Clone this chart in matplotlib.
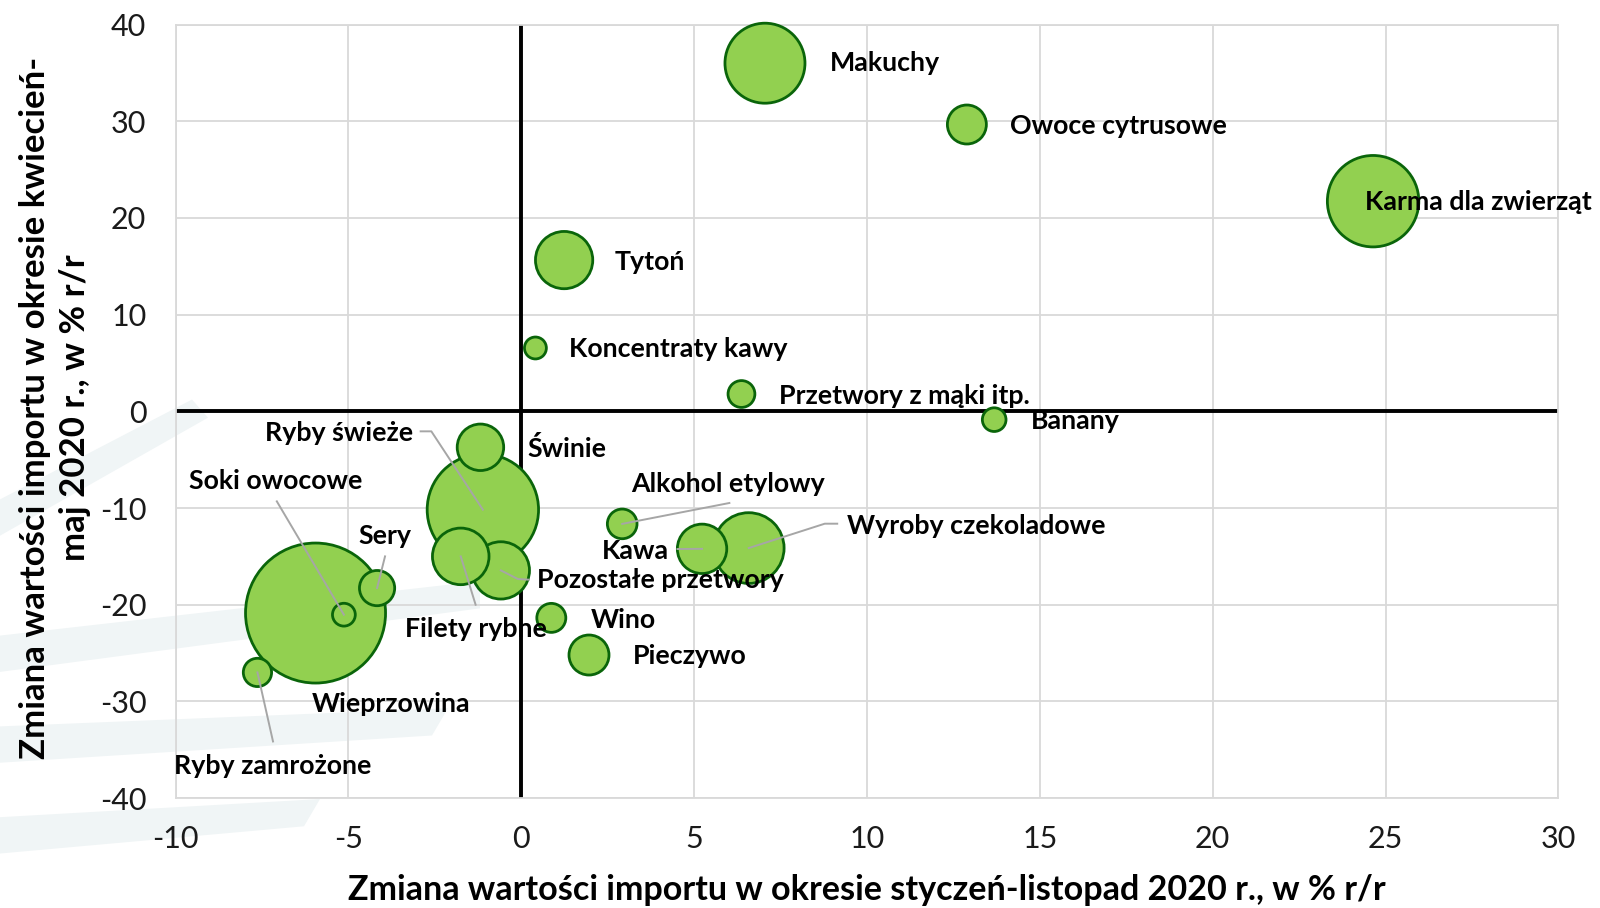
import matplotlib
matplotlib.use("Agg")
import matplotlib.pyplot as plt
from matplotlib.patches import Polygon
import numpy as np

plt.rcParams['font.family'] = ['Lato', 'DejaVu Sans']
plt.rcParams['axes.unicode_minus'] = False

# --- data ---
nazwy = ['Makuchy', 'Owoce cytrusowe', 'Karma dla zwierząt', 'Tytoń', 'Koncentraty kawy',
         'Przetwory z mąki itp.', 'Banany', 'Świnie', 'Ryby świeże', 'Filety rybne',
         'Pozostałe przetwory', 'Alkohol etylowy', 'Kawa', 'Wyroby czekoladowe', 'Sery',
         'Wieprzowina', 'Soki owocowe', 'Ryby zamrożone', 'Wino', 'Pieczywo']
zmiana_sty_lis = [7.05, 12.89, 24.64, 1.24, 0.41,
                  6.37, 13.68, -1.18, -1.11, -1.75,
                  -0.59, 2.92, 5.23, 6.58, -4.17,
                  -5.95, -5.13, -7.63, 0.87, 1.96]
zmiana_kwi_maj = [36.0, 29.66, 21.73, 15.64, 6.55,
                  1.79, -0.86, -3.72, -10.17, -15.0,
                  -16.45, -11.64, -14.22, -14.14, -18.28,
                  -20.86, -21.03, -27.0, -21.36, -25.2]
wielkosc = [16.0, 3.8, 20.9, 8.2, 1.2,
            1.8, 1.4, 5.4, 31.0, 8.0,
            8.2, 2.2, 6.1, 12.5, 3.1,
            49.0, 1.3, 2.0, 2.1, 4.0]

# label anchor (left edge, vertical centre) in data units, plus optional leader line
etykiety = {
    'Makuchy': (8.94, 36.0, None),
    'Owoce cytrusowe': (14.13, 29.55, None),
    'Karma dla zwierząt': (24.40, 21.6, None),
    'Tytoń': (2.71, 15.41, None),
    'Koncentraty kawy': (1.39, 6.44, None),
    'Przetwory z mąki itp.': (7.46, 1.58, None),
    'Banany': (14.73, -1.03, None),
    'Świnie': (0.18, -3.8, None),
    'Ryby świeże': (-7.42, -2.24, [(-2.91, -2.07), (-2.60, -2.07)]),
    'Soki owocowe': (-9.62, -7.17, [(-7.07, -9.31)]),
    'Sery': (-4.71, -12.93, [(-3.94, -15.0)]),
    'Filety rybne': (-3.37, -22.5, [(-1.32, -20.0)]),
    'Pozostałe przetwory': (0.45, -17.41, [(0.22, -17.41), (-0.10, -17.34)]),
    'Alkohol etylowy': (3.17, -7.48, [(6.02, -9.48)]),
    'Kawa': (2.33, -14.41, [(4.52, -14.24)]),
    'Wyroby czekoladowe': (9.42, -11.9, [(9.14, -11.62), (8.78, -11.62)]),
    'Wieprzowina': (-6.06, -30.24, None),
    'Ryby zamrożone': (-10.03, -36.66, [(-7.18, -34.14)]),
    'Wino': (2.0, -21.55, None),
    'Pieczywo': (3.23, -25.34, None),
}

fig = plt.figure(figsize=(16, 9.08), dpi=100)

# faint background watermark streaks, on a hidden axes behind the chart
bg = fig.add_axes([0, 0, 1, 1], zorder=-1)
bg.set_xlim(0, 1)
bg.set_ylim(0, 1)
bg.axis('off')
for pts in [[(0.0, 0.30), (0.30, 0.36), (0.30, 0.33), (0.0, 0.26)],
            [(0.0, 0.20), (0.28, 0.22), (0.27, 0.19), (0.0, 0.16)],
            [(0.0, 0.10), (0.20, 0.12), (0.19, 0.09), (0.0, 0.06)],
            [(0.0, 0.45), (0.12, 0.56), (0.13, 0.54), (0.0, 0.41)]]:
    bg.add_patch(Polygon(pts, closed=True, facecolor='#F0F5F6', edgecolor='none'))

ax = fig.add_axes([0.1097, 0.121, 0.8643, 0.852])
ax.set_facecolor('none')

ax.set_xlim(-10, 30)
ax.set_ylim(-40, 40)
ax.set_xticks(np.arange(-10, 31, 5))
ax.set_yticks(np.arange(-40, 41, 10))
ax.grid(True, color='#D9D9D9', linewidth=1.3, zorder=0)
ax.set_axisbelow(True)
for s in ax.spines.values():
    s.set_color('#D9D9D9')
    s.set_linewidth(1.3)
ax.tick_params(length=0, labelsize=22, labelcolor='#1a1a1a')
ax.tick_params(axis='y', pad=21)
ax.tick_params(axis='x', pad=19)

ax.axhline(0, color='black', linewidth=2.8, zorder=1)
ax.axvline(0, color='black', linewidth=2.8, zorder=1)

# bubbles: biggest first so smaller ones stay on top
order = np.argsort(wielkosc)[::-1]
x = np.array(zmiana_sty_lis)[order]
y = np.array(zmiana_kwi_maj)[order]
s = np.array(wielkosc)[order] * 207.4
ax.scatter(x, y, s=s, facecolor='#92D050', edgecolor='#0A650A', linewidth=2.0,
           zorder=3, clip_on=False)

for i, n in enumerate(nazwy):
    lx, ly, leader = etykiety[n]
    if leader:
        pts = leader + [(zmiana_sty_lis[i], zmiana_kwi_maj[i])]
        ax.plot([p[0] for p in pts], [p[1] for p in pts], color='#A6A6A6',
                linewidth=1.4, zorder=4)
    ax.text(lx, ly, n, ha='left', va='center', fontsize=19.3, fontweight='bold',
            color='black', zorder=5)

fig.text(0.5415, 0.020, 'Zmiana wartości importu w okresie styczeń-listopad 2020 r., w % r/r',
         ha='center', va='center', fontsize=24.6, fontweight='bold')
fig.text(0.0345, 0.551, 'Zmiana wartości importu w okresie kwiecień-\nmaj 2020 r., w % r/r',
         ha='center', va='center', rotation=90, fontsize=25, fontweight='bold',
         linespacing=1.32, multialignment='center')

fig.savefig('out.png', dpi=100)
